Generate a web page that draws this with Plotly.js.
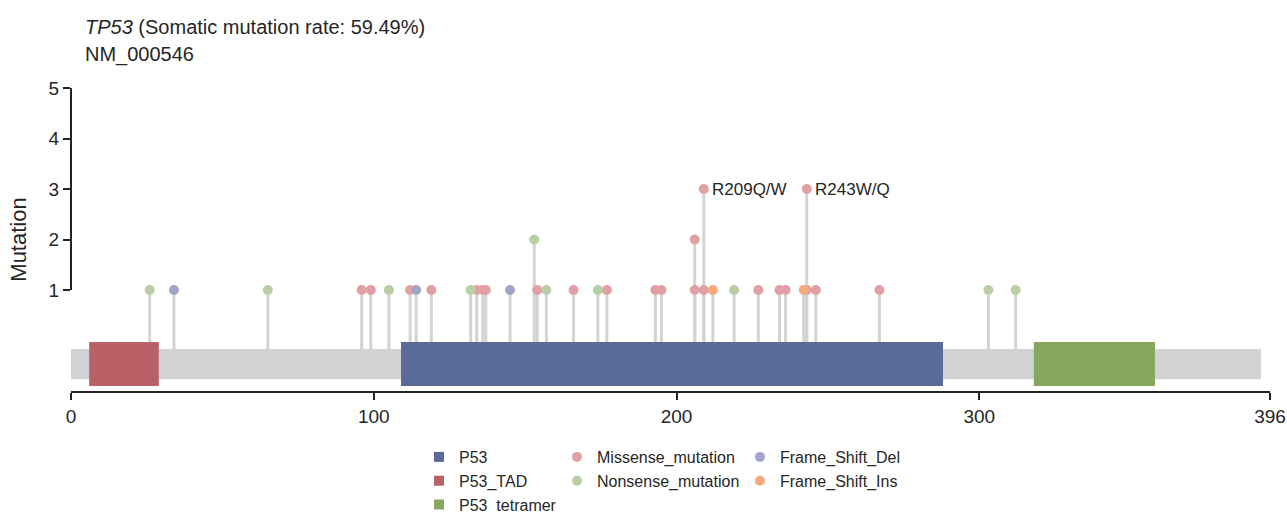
<!DOCTYPE html>
<html>
<head>
<meta charset="utf-8">
<script src="https://cdn.plot.ly/plotly-3.0.1.min.js"></script>
<style>html,body{margin:0;padding:0;background:#fff;}#chart{width:1287px;height:512px;}</style>
</head>
<body>
<div id="chart"></div>
<script>
// ---- data ----
const proteinLength = 393;
const axisMax = 396;
const xTickVals = [0, 100, 200, 300, 396];
const yTickVals = [1, 2, 3, 4, 5];

const domainNames = ['P53', 'P53_TAD', 'P53_tetramer'];
const domainStart = [109, 6, 318];
const domainEnd = [288, 29, 358];
const domainColors = ['#5a6b99', '#ba6167', '#85a75e'];

const missensePos = [96, 99, 112, 119, 134, 136, 137, 154, 166, 177, 193, 195, 206, 206, 209, 209, 227, 234, 236, 243, 243, 246, 267];
const missenseCount = [1, 1, 1, 1, 1, 1, 1, 1, 1, 1, 1, 1, 1, 2, 1, 3, 1, 1, 1, 1, 3, 1, 1];
const nonsensePos = [26, 65, 105, 132, 153, 157, 174, 219, 303, 312];
const nonsenseCount = [1, 1, 1, 1, 2, 1, 1, 1, 1, 1];
const fsDelPos = [34, 114, 145];
const fsDelCount = [1, 1, 1];
const fsInsPos = [212, 242];
const fsInsCount = [1, 1];

const labelText = ['R209Q/W', 'R243W/Q'];
const labelPos = [209, 243];
const labelCount = [3, 3];

const titleLine1 = '<i>TP53</i> (Somatic mutation rate: 59.49%)';
const titleLine2 = 'NM_000546';

// ---- style ----
const FONT = '"Liberation Sans", Arial, sans-serif';
const TXT = '#262626';
const STEM_BASE = -0.17;
const DOMAIN_MID = -0.47;
const mutTypes = [
  {name: 'Missense_mutation', x: missensePos, y: missenseCount, color: '#e0a0a4', legend: 'legend2'},
  {name: 'Nonsense_mutation', x: nonsensePos, y: nonsenseCount, color: '#b8cfa6', legend: 'legend2'},
  {name: 'Frame_Shift_Del', x: fsDelPos, y: fsDelCount, color: '#a1a4c9', legend: 'legend3'},
  {name: 'Frame_Shift_Ins', x: fsInsPos, y: fsInsCount, color: '#f6ab7c', legend: 'legend3'}
];

// stems
const stemX = [], stemY = [];
mutTypes.forEach(t => t.x.forEach((p, i) => {
  stemX.push(p, p, null);
  stemY.push(STEM_BASE, t.y[i], null);
}));

const traces = [];
traces.push({
  type: 'scatter', mode: 'lines', x: stemX, y: stemY,
  line: {color: '#d3d3d3', width: 3}, hoverinfo: 'skip', showlegend: false
});
mutTypes.forEach(t => traces.push({
  type: 'scatter', mode: 'markers', name: t.name, x: t.x, y: t.y,
  marker: {color: t.color, size: 10, line: {width: 0}}, legend: t.legend
}));
// domain legend entries: one point at each domain centre (hidden beneath the domain box)
domainNames.forEach((n, i) => traces.push({
  type: 'scatter', mode: 'markers', name: n,
  x: [(domainStart[i] + domainEnd[i]) / 2], y: [DOMAIN_MID],
  marker: {color: domainColors[i], size: 10, symbol: 'square', line: {width: 0}}, legend: 'legend'
}));

const shapes = [];
shapes.push({type: 'rect', xref: 'x', yref: 'y', x0: 0, x1: proteinLength, y0: -0.17, y1: -0.765,
  fillcolor: '#d1d2d4', line: {width: 0}, layer: 'below'});
domainNames.forEach((n, i) => shapes.push({type: 'rect', xref: 'x', yref: 'y',
  x0: domainStart[i], x1: domainEnd[i], y0: -0.03, y1: -0.9,
  fillcolor: domainColors[i], line: {width: 0}, layer: 'above'}));
shapes.push({type: 'line', xref: 'paper', yref: 'y', x0: 0, x1: 0,
  y0: yTickVals[0], y1: yTickVals[yTickVals.length - 1], line: {color: '#222', width: 2}, layer: 'above'});

const annotations = labelText.map((t, i) => ({
  x: labelPos[i], y: labelCount[i], xref: 'x', yref: 'y', text: t, showarrow: false,
  xanchor: 'left', yanchor: 'middle', xshift: 6, font: {family: FONT, size: 17, color: TXT}
}));
annotations.push({xref: 'paper', yref: 'paper', x: 12 / 1199, y: (391 - 27) / 303,
  xanchor: 'left', yanchor: 'middle', showarrow: false, text: titleLine1,
  font: {family: FONT, size: 20, color: TXT}});
annotations.push({xref: 'paper', yref: 'paper', x: 12 / 1199, y: (391 - 55) / 303,
  xanchor: 'left', yanchor: 'middle', showarrow: false, text: titleLine2,
  font: {family: FONT, size: 20, color: TXT}});

const legendBase = {xref: 'paper', yref: 'paper', xanchor: 'left', yanchor: 'top',
  y: -(440 - 391) / 303, font: {family: FONT, size: 16, color: TXT}, bgcolor: 'rgba(0,0,0,0)',
  tracegroupgap: 0, itemsizing: 'trace', orientation: 'v'};

const layout = {
  width: 1287, height: 512,
  margin: {l: 71, r: 17, t: 88, b: 121, pad: 0, autoexpand: false},
  paper_bgcolor: '#fff', plot_bgcolor: '#fff',
  font: {family: FONT, color: TXT},
  xaxis: {
    range: [0, axisMax], tickvals: xTickVals, ticktext: xTickVals.map(String),
    showgrid: false, zeroline: false, showline: true, linecolor: '#222', linewidth: 2,
    ticks: 'outside', ticklen: 7, tickwidth: 2, tickcolor: '#222',
    tickfont: {family: FONT, size: 19, color: TXT}, fixedrange: true
  },
  yaxis: {
    range: [-1, 5], tickvals: yTickVals, ticktext: yTickVals.map(String),
    showgrid: false, zeroline: false, showline: false,
    ticks: 'outside', ticklen: 7, tickwidth: 2, tickcolor: '#222',
    tickfont: {family: FONT, size: 19, color: TXT}, fixedrange: true,
    title: {text: 'Mutation', font: {family: FONT, size: 22, color: TXT}, standoff: 15}
  },
  shapes: shapes,
  annotations: annotations,
  showlegend: true,
  legend: Object.assign({}, legendBase, {x: (419 - 71) / 1199}),
  legend2: Object.assign({}, legendBase, {x: (557 - 71) / 1199}),
  legend3: Object.assign({}, legendBase, {x: (740 - 71) / 1199})
};

Plotly.newPlot('chart', traces, layout, {displayModeBar: false, staticPlot: true});
</script>
</body>
</html>
